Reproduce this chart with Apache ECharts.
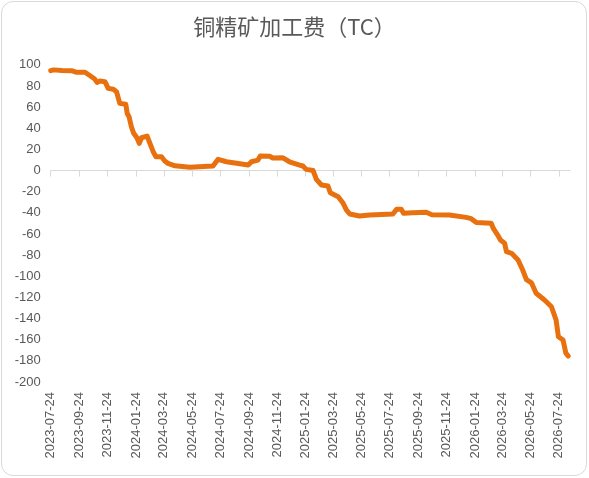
<!DOCTYPE html>
<html>
<head>
<meta charset="utf-8">
<script src="https://cdn.jsdelivr.net/npm/echarts@6/dist/echarts.min.js"></script>
<style>
html,body{margin:0;padding:0;background:#fff;}
#wrap{position:relative;width:589px;height:478px;}
#chart{position:absolute;left:0;top:0;width:589px;height:478px;}
#frame{position:absolute;left:1px;top:1px;width:586px;height:475px;box-sizing:border-box;border:1px solid #d9d9d9;border-radius:12px;pointer-events:none;}
</style>
</head>
<body>
<div id="wrap"><div id="chart"></div><div id="frame"></div></div>
<script>
const titleText = '铜精矿加工费（TC）';
const dates = [
'2023-07-24','2023-07-30','2023-08-17','2023-09-07','2023-09-18','2023-10-06','2023-10-17','2023-10-27',
'2023-11-01','2023-11-07','2023-11-18','2023-11-25','2023-12-06','2023-12-13','2023-12-17','2023-12-20',
'2024-01-02','2024-01-05','2024-01-09','2024-01-14','2024-01-19','2024-01-26','2024-01-31','2024-02-05',
'2024-02-17','2024-02-23','2024-03-01','2024-03-07','2024-03-19','2024-03-26','2024-04-02','2024-04-17',
'2024-05-19','2024-07-08','2024-07-19','2024-08-06','2024-08-28','2024-09-22','2024-09-29','2024-10-13',
'2024-10-18','2024-11-07','2024-11-14','2024-12-06','2024-12-20','2025-01-11','2025-01-18','2025-01-25',
'2025-02-09','2025-02-16','2025-02-27','2025-03-13','2025-03-18','2025-04-04','2025-04-14','2025-04-22',
'2025-04-29','2025-05-20','2025-06-11','2025-07-31','2025-08-08','2025-08-18','2025-08-23','2025-09-12',
'2025-10-11','2025-10-23','2025-11-30','2026-01-05','2026-01-16','2026-01-27','2026-02-28','2026-03-05',
'2026-03-14','2026-03-20','2026-03-29','2026-04-02','2026-04-13','2026-04-27','2026-05-07','2026-05-15',
'2026-05-26','2026-06-05','2026-06-23','2026-07-08','2026-07-18','2026-07-23','2026-08-02','2026-08-08',
'2026-08-13'
];
const tcValues = [
94.5,95.2,94.6,94.4,92.9,92.9,89.6,86.5,
83.4,84.6,84.0,77.7,76.8,74.5,68.3,63.5,
62.6,54.0,50.9,41.4,35.2,31.0,25.7,31.0,
32.6,25.7,17.8,13.0,13.0,9.0,6.8,4.5,
3.2,4.3,10.6,8.3,6.8,5.2,8.3,9.9,
13.8,13.5,11.8,12.0,8.3,5.2,4.3,1.1,
0.0,-8.3,-13.7,-14.7,-21.0,-24.8,-30.4,-37.4,
-41.1,-43.0,-42.1,-41.1,-36.7,-36.7,-40.5,-39.9,
-39.5,-41.8,-42.1,-44.3,-45.5,-49.2,-49.9,-55.0,
-61.0,-65.7,-68.8,-76.8,-78.3,-84.6,-94.1,-103.2,
-106.3,-116.1,-122.5,-128.8,-141.4,-157.2,-160.3,-172.5,
-175.5
];
const tickLabels = [
'2023-07-24','2023-09-24','2023-11-24','2024-01-24','2024-03-24','2024-05-24','2024-07-24',
'2024-09-24','2024-11-24','2025-01-24','2025-03-24','2025-05-24','2025-07-24','2025-09-24',
'2025-11-24','2026-01-24','2026-03-24','2026-05-24','2026-07-24'
];
const axisStart = '2023-07-24';
const axisEnd = '2026-08-17';

function ts(s){const p=s.split('-').map(Number);return Date.UTC(p[0],p[1]-1,p[2]);}
function pad(n){return (n<10?'0':'')+n;}
function fmt(v){const d=new Date(v);return d.getUTCFullYear()+'-'+pad(d.getUTCMonth()+1)+'-'+pad(d.getUTCDate());}

const tickVals = tickLabels.map(ts);
const seriesData = dates.map((d,i)=>[ts(d), tcValues[i]]);
const labelColor = '#595959';

const chart = echarts.init(document.getElementById('chart'), null, {renderer:'canvas'});
chart.setOption({
  animation:false,
  backgroundColor:'#ffffff',
  title:{
    text:titleText, left:'center', top:11,
    textStyle:{fontFamily:'Noto Sans CJK SC', fontSize:22, fontWeight:'normal', color:'#595959'}
  },
  grid:{left:50.7, right:19, top:64.8, bottom:96, outerBoundsMode:'none', containLabel:false},
  xAxis:[
    {
      type:'value', min:ts(axisStart), max:ts(axisEnd), position:'bottom', scale:true,
      axisLine:{show:true, onZero:true, lineStyle:{color:'#d9d9d9', width:1}},
      axisTick:{show:true, customValues:tickVals, length:6, lineStyle:{color:'#d9d9d9'}},
      axisLabel:{show:false},
      splitLine:{show:false}
    },
    {
      type:'value', min:ts(axisStart), max:ts(axisEnd), position:'bottom', scale:true,
      axisLine:{show:false, onZero:false},
      axisTick:{show:false},
      axisLabel:{show:true, customValues:tickVals, rotate:90, margin:10, fontSize:13,
        fontFamily:'Liberation Sans', color:labelColor, formatter:function(v){return fmt(v);}},
      splitLine:{show:false}
    }
  ],
  yAxis:{
    type:'value', min:-200, max:100, interval:20,
    axisLine:{show:false}, axisTick:{show:false}, splitLine:{show:false},
    axisLabel:{margin:10, fontSize:13, fontFamily:'Liberation Sans', color:labelColor}
  },
  series:[{
    type:'line', xAxisIndex:0, data:seriesData, showSymbol:false,
    lineStyle:{color:'#E8700F', width:5, join:'round', cap:'round'},
    itemStyle:{color:'#E8700F'}
  }]
});
</script>
</body>
</html>
